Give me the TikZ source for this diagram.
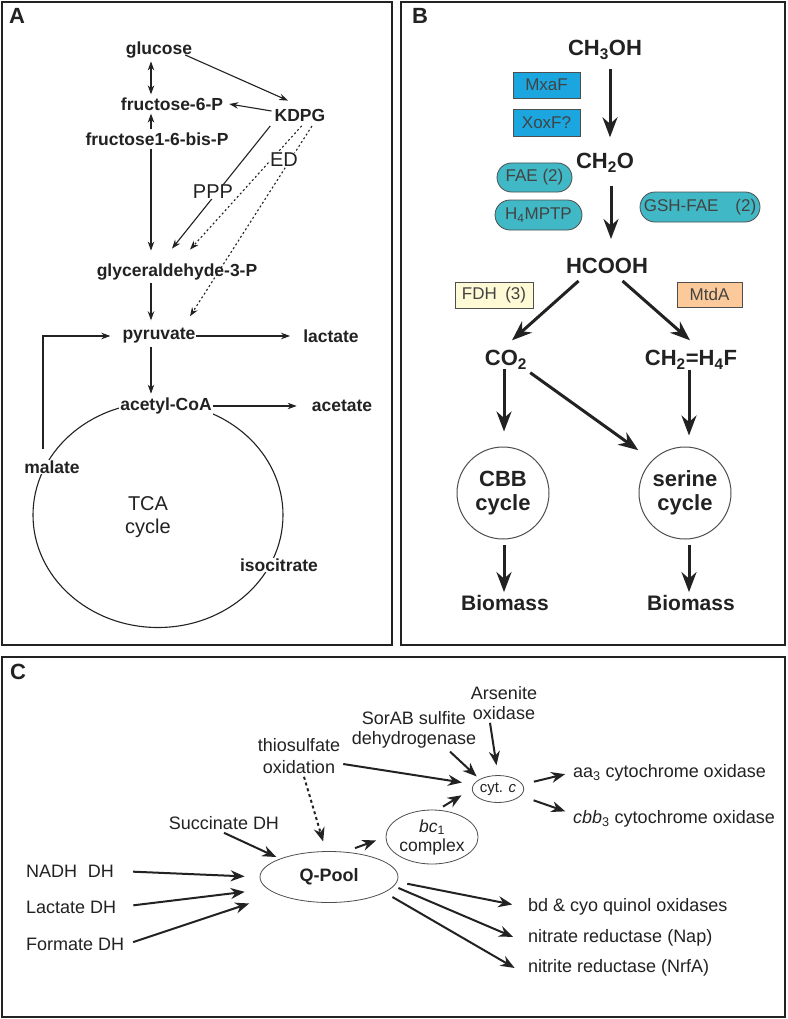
\documentclass[tikz,border=0pt]{standalone}
\usepackage{fontspec}
\setmainfont{Liberation Sans}
\usetikzlibrary{shapes}
\usetikzlibrary{arrows.meta}
\definecolor{ink}{HTML}{222222}
\definecolor{mxablue}{HTML}{1BA6E0}
\definecolor{faeteal}{HTML}{40B8C5}
\definecolor{fdhyellow}{HTML}{FFFAD6}
\definecolor{mtdaorange}{HTML}{FBC99A}
\tikzset{
	panel/.style = {
		draw=ink,
		line width=2.2pt
	},
	panel_tag/.style = {
		font=\fontsize{22}{24}\selectfont\bfseries,
		text=ink,
		inner sep=0pt
	},
	node_a/.style = {
		font=\fontsize{17.5}{20}\selectfont\bfseries,
		text=ink,
		inner sep=3pt
	},
	node_a_txt/.style = {
		font=\fontsize{20}{23}\selectfont,
		text=ink,
		align=center,
		inner sep=1pt
	},
	edge_a/.style = {
		-{Stealth[length=9pt,width=6.5pt]},
		line width=1.1pt,
		draw=ink
	},
	edge_a_dot/.style = {
		edge_a,
		dash pattern=on 2pt off 2.5pt
	},
	node_b/.style = {
		font=\fontsize{22}{25}\selectfont\bfseries,
		text=ink,
		align=center,
		inner sep=3pt
	},
	node_enz/.style = {
		draw=ink!80,
		line width=0.8pt,
		font=\fontsize{17}{19}\selectfont,
		text=ink!85,
		inner sep=0pt
	},
	node_enz_box/.style = {
		node_enz,
		rectangle,
		minimum height=26pt
	},
	node_enz_pill/.style = {
		node_enz,
		rounded rectangle,
		fill=faeteal,
		minimum height=29pt
	},
	node_cycle/.style = {
		node_b,
		circle,
		draw=ink!80,
		line width=1pt,
		minimum size=92pt,
		inner sep=0pt
	},
	edge_b/.style = {
		-{Stealth[length=20pt,width=15pt]},
		line width=3pt,
		draw=ink
	},
	node_c/.style = {
		font=\fontsize{18}{21}\selectfont,
		text=ink,
		align=center,
		inner sep=3pt
	},
	node_c_ell/.style = {
		ellipse,
		draw=ink!80,
		line width=0.8pt,
		inner sep=0pt
	},
	edge_c/.style = {
		-{Stealth[length=14pt,width=11pt]},
		line width=2pt,
		draw=ink
	},
	edge_c_dot/.style = {
		edge_c,
		dash pattern=on 3pt off 3pt
	},
}
\begin{document}
\begin{tikzpicture}[x=1pt,y=-1pt]
\useasboundingbox (0,0) rectangle (787,1019);
\fill[white] (0,0) rectangle (787,1019);
% panel frames
\draw[panel] (2,2) rectangle (392,645);
\draw[panel] (401,2) rectangle (785,645);
\draw[panel] (2,657) rectangle (785,1017);
\node[panel_tag] (tag_a) at (17,16) {A};
\node[panel_tag] (tag_b) at (420,16) {B};
\node[panel_tag] (tag_c) at (18,672) {C};

% A: central carbon metabolism
\coordinate (col_a) at (151,0);
\node[ellipse, draw=ink, line width=1.1pt, minimum width=250pt, minimum height=225pt, inner sep=0pt] (tca_ring) at (158,515) {};
\node[node_a] (glucose) at (159,50) {glucose};
\node[node_a] (fru6p) at (172,104) {fructose-6-P};
\node[node_a] (kdpg) at (300,115) {KDPG};
\node[node_a] (fru16) at (157,139) {fructose1-6-bis-P};
\node[node_a] (gap) at (177,272) {glyceraldehyde-3-P};
\node[node_a] (pyr) at (159,336) {pyruvate};
\node[node_a] (lac) at (331,336) {lactate};
\node[node_a] (acet) at (342,406) {acetate};
\node[node_a_txt] (tca) at (148,517) {TCA\\cycle};

\draw[edge_a, {Stealth[length=9pt,width=6.5pt]}-{Stealth[length=9pt,width=6.5pt]}] (glucose.south -| col_a) -- (fru6p.north -| col_a);
\draw[edge_a] ([xshift=-10pt,yshift=-5pt]glucose.east) -- ([xshift=-12pt,yshift=5pt]kdpg.north);
\draw[edge_a] ([yshift=4pt]kdpg.west) -- ([xshift=3pt]fru6p.east);
\draw[edge_a] (fru16.north -| col_a) -- (fru6p.south -| col_a);
\draw[edge_a, shorten >=10pt] (fru16.south -| col_a) -- (gap.north -| col_a);
\draw[edge_a, shorten <=2pt] (kdpg.south west) -- ([xshift=-5pt,yshift=12pt]gap.north);
\draw[edge_a_dot, shorten <=2pt] ([xshift=3pt]kdpg.south) -- ([xshift=13pt,yshift=11pt]gap.north);
\draw[edge_a_dot, shorten <=2pt] ([xshift=13pt]kdpg.south) -- ([xshift=31pt,yshift=9pt]pyr.north);
\draw[edge_a, shorten >=5pt] (gap.south -| col_a) -- (pyr.north -| col_a);

% labels sitting on lines
\node[node_a_txt, fill=white, inner sep=0pt] (ppp) at (213,192) {PPP};
\node[node_a_txt, fill=white, inner sep=0pt] (ed) at (284,160) {ED};
\node[node_a, fill=white, inner sep=1pt] (accoa) at (166,406) {acetyl-CoA};
\node[node_a, fill=white, inner sep=1pt] (mal) at (52,467) {malate};
\node[node_a, fill=white, inner sep=1pt] (icit) at (279,565) {isocitrate};

\draw[edge_a, shorten <=10pt, shorten >=9pt] ([xshift=-9pt]mal.north) |- (pyr.west);
\draw[edge_a, shorten >=10pt] ([xshift=-3pt]pyr.east) -- (lac.west);
\draw[edge_a] (pyr.south -| col_a) -- ([yshift=3pt]accoa.north -| col_a);
\draw[edge_a, shorten >=12pt] (accoa.east) -- (acet.west);

% B: methanol oxidation
\node[node_b] (ch3oh) at (605,50) {CH\textsubscript{3}OH};
\node[node_enz_box, fill=mxablue, minimum width=67pt] (mxaf) at (546.5,85) {MxaF};
\node[node_enz_box, fill=mxablue, minimum width=67pt, minimum height=27pt] (xoxf) at (546.5,122.5) {XoxF?};
\node[node_b] (ch2o) at (605,163) {CH\textsubscript{2}O};
\node[node_enz_pill, minimum width=75pt] (fae) at (534.5,177.5) {FAE (2)};
\node[node_enz_pill, minimum width=87pt, minimum height=30pt] (h4mptp) at (538.5,215) {H\textsubscript{4}MPTP};
\node[node_enz_pill, minimum width=120pt, minimum height=30pt] (gshfae) at (700,207) {GSH-FAE\hspace{1em}(2)};
\node[node_b] (hcooh) at (607,266) {HCOOH};
\node[node_enz_box, fill=fdhyellow, minimum width=78pt] (fdh) at (494,295) {FDH\hspace{0.5em}(3)};
\node[node_enz_box, fill=mtdaorange, minimum width=65pt, minimum height=25pt] (mtda) at (709.5,294.5) {MtdA};
\node[node_b] (co2) at (506,360) {CO\textsubscript{2}};
\node[node_b] (ch2h4f) at (691,360) {CH\textsubscript{2}=H\textsubscript{4}F};
\node[node_cycle] (cbb) at (503,493) {CBB\\[-1pt]cycle};
\node[node_cycle] (ser) at (685,493) {serine\\[-1pt]cycle};
\node[node_b, font=\fontsize{21}{24}\selectfont\bfseries] (bio1) at (505,603) {Biomass};
\node[node_b, font=\fontsize{21}{24}\selectfont\bfseries] (bio2) at (691,603) {Biomass};

\draw[edge_b, shorten <=6pt, shorten >=13pt] ([xshift=5pt]ch3oh.south) -- ([xshift=5pt]ch2o.north);
\draw[edge_b, shorten <=10pt, shorten >=16pt] ([xshift=6pt]ch2o.south) -- ([xshift=4pt]hcooh.north);
\draw[edge_b, shorten <=6pt] ([xshift=-24pt]hcooh.south) -- ([xshift=6pt,yshift=7pt]co2.north);
\draw[edge_b, shorten <=6pt] ([xshift=11pt]hcooh.south) -- ([xshift=-1pt,yshift=7pt]ch2h4f.north);
\draw[edge_b, shorten <=-4pt, shorten >=15pt] ([xshift=1pt]cbb.north |- co2.south) -- ([xshift=1pt]cbb.north);
\draw[edge_b, shorten >=17pt] (co2.south east) -- (ser.north west);
\draw[edge_b, shorten <=-3pt, shorten >=11pt] ([xshift=-2pt]ch2h4f.south) -- ([xshift=-2pt]ch2h4f.south |- ser.north);
\draw[edge_b, shorten <=5pt] ([xshift=1pt]cbb.south) -- ([xshift=-1pt]bio1.north);
\draw[edge_b, shorten <=5pt] ([xshift=4pt]ser.south) -- ([xshift=-2pt]bio2.north);

% C: respiratory chain
\node[node_c, anchor=west] (nadh) at (23,871) {NADH\hspace{0.6em}DH};
\node[node_c, anchor=west] (lacdh) at (23,907) {Lactate DH};
\node[node_c, anchor=west] (formdh) at (23,944) {Formate DH};
\node[node_c_ell, minimum width=138pt, minimum height=51pt, font=\fontsize{18}{21}\selectfont\bfseries, text=ink] (qpool) at (329,877) {Q-Pool};
\node[node_c] (sucdh) at (224,823) {Succinate DH};
\node[node_c, font=\fontsize{18}{22}\selectfont] (thio) at (299,756) {thiosulfate\\oxidation};
\node[node_c, font=\fontsize{18}{20}\selectfont] (sorab) at (414,730) {SorAB sulfite\\dehydrogenase};
\node[node_c, font=\fontsize{18}{20}\selectfont] (arsen) at (504,703) {Arsenite\\oxidase};
\node[node_c_ell, minimum width=40pt, minimum height=27pt, font=\fontsize{15}{17}\selectfont, text=ink] (cytc) at (498,789) {cyt. \textit{c}};
\node[node_c_ell, minimum width=77pt, minimum height=54pt, align=center, font=\fontsize{17.5}{19}\selectfont, text=ink] (bc1) at (432,837) {\textit{bc}\textsubscript{1}\\complex};
\node[node_c, anchor=west] (aa3) at (570,773) {aa\textsubscript{3} cytochrome oxidase};
\node[node_c, anchor=west] (cbb3) at (570,819) {\textit{cbb}\textsubscript{3} cytochrome oxidase};
\node[node_c, anchor=west] (bd) at (525,907) {bd \& cyo quinol oxidases};
\node[node_c, anchor=west] (nap) at (525,938) {nitrate reductase (Nap)};
\node[node_c, anchor=west] (nrfa) at (525,968) {nitrite reductase (NrfA)};

\draw[edge_c, shorten <=16pt, shorten >=15pt] (nadh.east) -- (qpool.west);
\draw[edge_c, shorten <=14pt, shorten >=15pt] (lacdh.east) -- ([yshift=-13pt]qpool.west);
\draw[edge_c, shorten <=6pt, shorten >=11pt] (formdh.east) -- ([yshift=-23pt]qpool.west);
\draw[edge_c, shorten >=4pt] (sucdh.south) -- (qpool.north west);
\draw[edge_c_dot, shorten >=10pt] ([xshift=5pt]thio.south) -- ([xshift=-3pt]qpool.north);
\draw[edge_c, shorten >=10pt] ([yshift=-8pt]thio.east) -- ([yshift=5pt]cytc.west);
\draw[edge_c, shorten >=4pt] ([xshift=36pt]sorab.south) -- (cytc.north west);
\draw[edge_c, shorten >=10pt] ([xshift=-14pt]arsen.south) -- (cytc.north);
\draw[edge_c, shorten >=10pt] ([xshift=26pt,yshift=3pt]qpool.north) -- (bc1.west);
\draw[edge_c, shorten >=12pt] ([xshift=11pt,yshift=3pt]bc1.north) -- (cytc.west);
\draw[edge_c, shorten <=10pt, shorten >=5pt] ([yshift=5pt]cytc.east) -- (aa3.west);
\draw[edge_c, shorten <=10pt, shorten >=5pt] ([yshift=-8pt]cytc.east) -- ([yshift=6pt]cbb3.west);
\draw[edge_c, shorten <=9pt, shorten >=13pt] ([yshift=-5pt]qpool.east) -- (bd.west);
\draw[edge_c, shorten >=13pt] ([yshift=-11pt]qpool.east) -- ([yshift=-4pt]nap.west);
\draw[edge_c, shorten >=12pt] ([xshift=-6pt,yshift=-20pt]qpool.east) -- ([yshift=-6pt]nrfa.west);
\end{tikzpicture}
\end{document}
